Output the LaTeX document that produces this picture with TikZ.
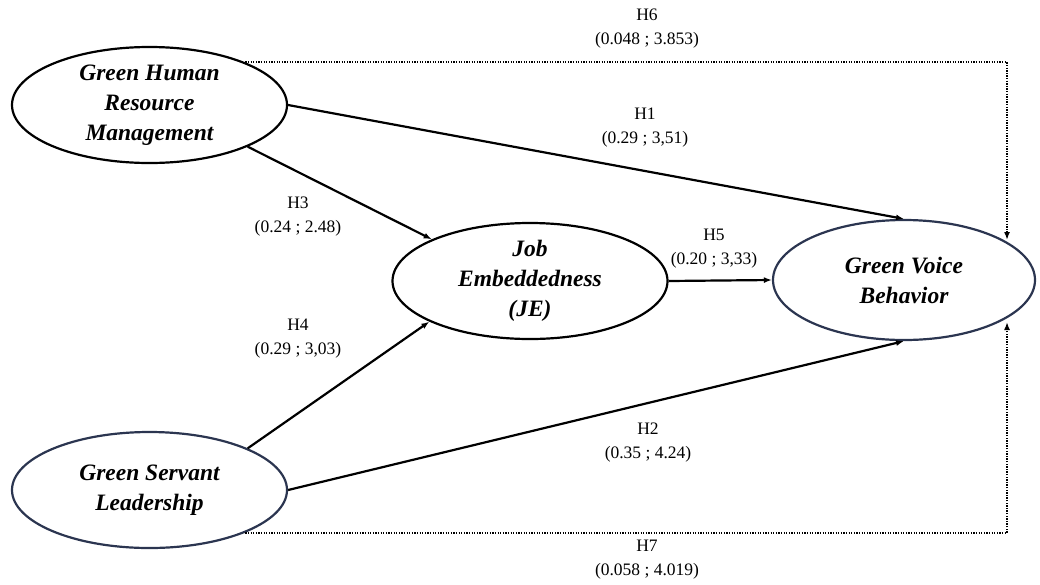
\documentclass[tikz,border=0pt]{standalone}
\usepackage{fontspec}
\setmainfont{Liberation Serif}
\usetikzlibrary{shapes.geometric,arrows.meta}
\definecolor{navy}{HTML}{2B3550}
\tikzset{
  construct/.style={draw=black, line width=2.2pt, ellipse, minimum width=275pt, minimum height=116pt, inner sep=0pt, align=center, font=\bfseries\itshape\fontsize{23.5}{30}\selectfont},
  lbl/.style={align=center, font=\fontsize{17.5}{24}\selectfont},
  path/.style={line width=2.2pt, -{Latex[length=8pt,width=6pt]}},
  dotpath/.style={line width=2pt, dash pattern=on 1.3pt off 1.3pt, -{Latex[length=8pt,width=6pt]}}
}
\begin{document}
\begin{tikzpicture}[x=1pt,y=-1pt]
\useasboundingbox (0,0) rectangle (1040,584);
\node[construct] (ghrm) at (149.5,105) {Green Human\\Resource\\Management};
\node[construct, draw=navy] (gsl) at (149.5,490) {Green Servant\\Leadership};
\node[construct] (je) at (530,281) {Job\\Embeddedness\\(JE)};
\node[construct, draw=navy, minimum width=262pt, minimum height=120pt] (gvb) at (904,280) {Green Voice\\Behavior};
\coordinate (t6) at (1007,240);
\coordinate (t7) at (1007,322);
\draw[path] (ghrm.east) -- (gvb.north);
\draw[path] (ghrm.-23) -- (je.157.7);
\draw[path] (gsl.23.6) -- (je.202.3);
\draw[path] (gsl.east) -- (gvb.south);
\draw[path] (je.east) -- (gvb.west);
\draw[dotpath] (ghrm.24) -| (t6);
\draw[dotpath] (gsl.-24) -| (t7);
\node[lbl] (l6) at (647,29) {H6\\(0.048 ; 3.853)};
\node[lbl] (l1) at (645,128) {H1\\(0.29 ; 3,51)};
\node[lbl] (l3) at (298,217) {H3\\(0.24 ; 2.48)};
\node[lbl] (l4) at (298,339) {H4\\(0.29 ; 3,03)};
\node[lbl] (l5) at (714,249) {H5\\(0.20 ; 3,33)};
\node[lbl] (l2) at (648,443) {H2\\(0.35 ; 4.24)};
\node[lbl] (l7) at (647,560) {H7\\(0.058 ; 4.019)};
\end{tikzpicture}
\end{document}
